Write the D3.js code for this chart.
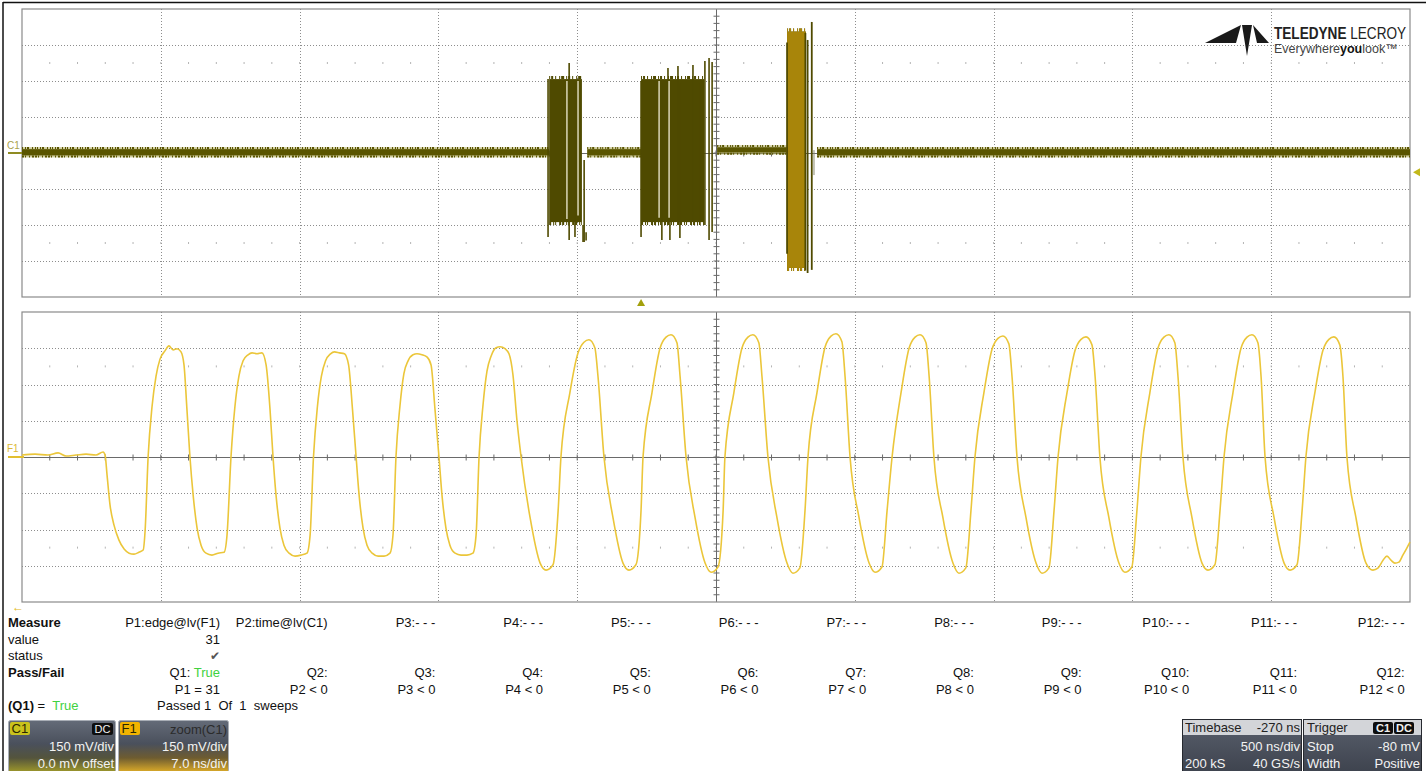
<!DOCTYPE html>
<html lang="en">
<head>
<meta charset="UTF-8">
<title>C1 burst capture with F1 zoom</title>
<script src="https://d3js.org/d3.v7.min.js"></script>
<style>
  body { margin: 0; background: #fff; }
  svg { display: block; font-family: "Liberation Sans", Arial, sans-serif; }
</style>
</head>
<body>
<svg id="scope" width="1426" height="771"></svg>
<script>
// ---------- C1 : 500 ns/div, 150 mV/div (time in ns from screen centre) ----------
const c1Baseline = [ // [t0, t1, low mV, high mV]
  [-2500, -601, -10, 16],
  [-464, -270, -10, 16],
  [4, 256, 2, 24],
  [364, 2500, -10, 16]
];
const c1Bursts = [ // [t0, t1, low mV, high mV]
  [-601, -483, -288, 308],
  [-270, -43, -288, 308],
  [256, 324, -479, 506]
];
const c1Spikes = [ // [t, low mV, high mV]
  [-605, -350, 308], [-529, -362, 375], [-508, -350, 290],
  [-479, -371, -300], [-475, -371, -29], [-468, -365, -330],
  [-270, -350, 300], [-195, -362, 290], [-173, -280, 354], [-166, -362, 290],
  [-137, -280, 363], [-130, -354, 290], [-83, -280, 367], [-58, -300, 290],
  [-40, -300, 383], [-25, -362, 396], [-14, -329, 379]
];
const c1Gaps = [ // light gaps inside the bursts [t, low mV, high mV]
  [-537, -275, 300], [-497, -260, 300], [-205, -270, 300], [-169, -270, 300]
];
const c1EdgeLines = [ // dark edges drawn over the zoom highlight
  [256, -420, 460], [322, -490, 500], [330, -500, 471], [345, -487, 546]
];
const c1Stub = [353, -92, 12];
const zoomCentre = 288, zoomHalf = 35;
const triggerTime = -270, triggerLevel = -80;

// ---------- F1 = zoom(C1) : 7 ns/div, 150 mV/div ----------
const f1Points = [
  [-35.00, 8], [-34.34, 12], [-33.69, 8], [-33.18, 17], [-32.78, 4], [-32.28, 8], [-31.77, 12], [-31.27, 8], [-30.91, 21], [-30.81, 8],
  [-30.71, -75], [-30.56, -199], [-30.36, -282], [-30.11, -344], [-29.85, -381], [-29.60, -398], [-29.35, -402], [-29.10, -394], [-28.89, -385], [-28.79, -303],
  [-28.64, 0], [-28.44, 210], [-28.24, 335], [-28.04, 405], [-27.79, 439], [-27.59, 460], [-27.38, 443], [-27.18, 448], [-26.98, 435], [-26.83, 381], [-26.68, 195],
  [-26.53, 0], [-26.37, -157], [-26.17, -294], [-25.97, -365], [-25.72, -398], [-25.42, -406], [-25.11, -398], [-24.81, -394], [-24.66, -323],
  [-24.46, 0], [-24.26, 210], [-24.06, 335], [-23.85, 398], [-23.60, 423], [-23.40, 431], [-23.15, 427], [-22.90, 431], [-22.69, 381], [-22.49, 195],
  [-22.34, 0], [-22.19, -157], [-21.99, -294], [-21.79, -365], [-21.53, -398], [-21.23, -410], [-20.93, -406], [-20.63, -398], [-20.47, -323],
  [-20.30, 0], [-20.10, 210], [-19.90, 335], [-19.69, 398], [-19.44, 427], [-19.24, 435], [-18.99, 431], [-18.74, 427], [-18.53, 381], [-18.33, 195],
  [-18.15, 0], [-18.00, -157], [-17.80, -294], [-17.60, -365], [-17.34, -398], [-17.04, -410], [-16.74, -410], [-16.44, -398], [-16.29, -323],
  [-16.14, 0], [-15.94, 210], [-15.74, 345], [-15.53, 398], [-15.28, 423], [-15.08, 427], [-14.83, 423], [-14.58, 414], [-14.37, 381], [-14.17, 195],
  [-13.97, 0], [-13.82, -157], [-13.62, -294], [-13.42, -365], [-13.16, -398], [-12.86, -406], [-12.56, -406], [-12.26, -398], [-12.10, -323],
  [-11.95, 0], [-11.75, 215], [-11.55, 355], [-11.34, 418], [-11.09, 452], [-10.89, 456], [-10.64, 448], [-10.44, 427], [-10.24, 340], [-10.04, 153],
  [-9.83, 0], [-9.38, -249], [-8.87, -439], [-8.57, -468], [-8.22, -446], [-7.96, -220],
  [-7.82, 0], [-7.37, 265], [-6.96, 430], [-6.66, 475], [-6.41, 485], [-6.11, 452], [-5.95, 332],
  [-5.65, 0], [-5.20, -249], [-4.69, -439], [-4.39, -468], [-4.04, -446], [-3.78, -220],
  [-3.68, 0], [-3.23, 265], [-2.82, 451], [-2.52, 496], [-2.27, 506], [-1.97, 473], [-1.81, 332],
  [-1.51, 0], [-1.06, -249], [-0.55, -439], [-0.25, -477], [0.10, -455], [0.36, -220],
  [0.45, 0], [0.90, 265], [1.31, 451], [1.61, 496], [1.86, 506], [2.16, 473], [2.32, 332],
  [2.62, 0], [3.07, -249], [3.58, -439], [3.88, -481], [4.23, -459], [4.49, -220],
  [4.64, 0], [5.09, 265], [5.50, 455], [5.80, 500], [6.05, 510], [6.35, 477], [6.51, 332],
  [6.76, 0], [7.21, -249], [7.72, -439], [8.02, -477], [8.37, -455], [8.63, -220],
  [8.88, 0], [9.33, 265], [9.74, 451], [10.04, 496], [10.29, 506], [10.59, 473], [10.75, 332],
  [10.99, 0], [11.44, -249], [11.95, -439], [12.25, -481], [12.60, -459], [12.86, -220],
  [13.06, 0], [13.51, 265], [13.92, 446], [14.22, 491], [14.47, 501], [14.77, 468], [14.93, 332],
  [15.18, 0], [15.63, -249], [16.14, -439], [16.44, -481], [16.79, -459], [17.05, -220],
  [17.25, 0], [17.70, 265], [18.11, 442], [18.41, 487], [18.66, 497], [18.96, 464], [19.12, 332],
  [19.36, 0], [19.81, -249], [20.32, -439], [20.62, -477], [20.97, -455], [21.23, -220],
  [21.43, 0], [21.88, 265], [22.29, 451], [22.59, 496], [22.84, 506], [23.14, 473], [23.30, 332],
  [23.55, 0], [24.00, -249], [24.51, -439], [24.81, -468], [25.16, -446], [25.42, -220],
  [25.62, 0], [26.07, 265], [26.48, 451], [26.78, 496], [27.03, 506], [27.33, 473], [27.49, 332],
  [27.69, 0], [28.14, -249], [28.65, -439], [28.95, -468], [29.30, -446], [29.56, -220],
  [29.75, 0], [30.20, 265], [30.61, 442], [30.91, 487], [31.16, 497], [31.46, 464], [31.62, 332],
  [31.82, 0], [32.27, -249], [32.78, -439], [33.13, -468], [33.38, -460], [33.64, -427], [33.84, -410],
  [34.04, -427], [34.24, -439], [34.44, -435], [34.64, -406], [34.84, -377], [35.00, -352]
];

// ---------- measurement table ----------
const paramHeaders = ["P1:edge@lv(F1)", "P2:time@lv(C1)", "P3:- - -", "P4:- - -", "P5:- - -", "P6:- - -",
  "P7:- - -", "P8:- - -", "P9:- - -", "P10:- - -", "P11:- - -", "P12:- - -"];
const paramValues = ["31"];
const paramStatus = ["\u2714"];
const qHeaders = d3.range(1, 13).map(i => `Q${i}:`);
const qResults = ["True"];
const qConditions = ["P1 = 31", "P2 < 0", "P3 < 0", "P4 < 0", "P5 < 0", "P6 < 0",
  "P7 < 0", "P8 < 0", "P9 < 0", "P10 < 0", "P11 < 0", "P12 < 0"];
const sweepSummary = ["(Q1)", "True", "Passed 1  Of  1  sweeps"];

// ---------- channel / timebase descriptors ----------
const c1Badge = ["C1", "DC", "150 mV/div", "0.0 mV offset"];
const f1Badge = ["F1", "zoom(C1)", "150 mV/div", "7.0 ns/div"];
const timebaseBox = ["Timebase", "-270 ns", "500 ns/div", "200 kS", "40 GS/s"];
const triggerBox = ["Trigger", "C1", "DC", "Stop", "-80 mV", "Width", "Positive"];

// ---------- layout ----------
const svg = d3.select("#scope");
const left = 22, right = 1410;
const top1 = 9, bot1 = 297, top2 = 312, bot2 = 602;

const xTop = d3.scaleLinear().domain([-2500, 2500]).range([left, right]);
const yTop = d3.scaleLinear().domain([-600, 600]).range([bot1, top1]);
const xBot = d3.scaleLinear().domain([-35, 35]).range([left, right]);
const yBot = d3.scaleLinear().domain([-600, 600]).range([bot2, top2]);

const darkTrace = "#4f4a00", baseTrace = "#5a5500", goldTrace = "#a8850a", f1Colour = "#ebc63a";

// gradients for the badges
const defs = svg.append("defs");
function grad(id, stops) {
  const g = defs.append("linearGradient").attr("id", id).attr("x1", 0).attr("y1", 0).attr("x2", 0).attr("y2", 1);
  stops.forEach(s => g.append("stop").attr("offset", s[0]).attr("stop-color", s[1]));
}
grad("gC1", [[0, "#646b78"], [0.45, "#4a505c"], [0.72, "#54543c"], [1, "#a09a2a"]]);
grad("gF1", [[0, "#646b78"], [0.45, "#4a505c"], [0.72, "#6e5c30"], [1, "#e0ae28"]]);
grad("gBox", [[0, "#59606d"], [1, "#3e434e"]]);

defs.append("clipPath").attr("id", "zoomClip").append("rect")
  .attr("x", xTop(zoomCentre - zoomHalf)).attr("y", top1)
  .attr("width", xTop(zoomCentre + zoomHalf) - xTop(zoomCentre - zoomHalf)).attr("height", bot1 - top1);

// outer border
svg.append("line").attr("x1", 3).attr("x2", 3).attr("y1", 2).attr("y2", 771).attr("stroke", "#111").attr("stroke-width", 1.5);
svg.append("line").attr("x1", 3).attr("x2", 1426).attr("y1", 2.5).attr("y2", 2.5).attr("stroke", "#111").attr("stroke-width", 1.5);

function drawGrid(g, x, y, tStep, vStep) {
  const [t0, t1] = x.domain(), [v0, v1] = y.domain();
  const tDivs = d3.range(0, 11).map(i => t0 + i * tStep);
  const vDivs = d3.range(0, 9).map(i => v0 + i * vStep);
  const tMinor = d3.range(0, 51).map(i => t0 + i * tStep / 5);
  const vMinor = d3.range(0, 41).map(i => v0 + i * vStep / 5);

  g.selectAll(".gv").data(tDivs.filter((d, i) => i > 0 && i < 10 && i !== 5)).join("line")
    .attr("x1", d => Math.round(x(d)) + 0.5).attr("x2", d => Math.round(x(d)) + 0.5)
    .attr("y1", y(v1)).attr("y2", y(v0))
    .attr("stroke", "#8d8d8d").attr("stroke-dasharray", "1,2");
  g.selectAll(".gh").data(vDivs.filter((d, i) => i > 0 && i < 8 && i !== 4)).join("line")
    .attr("y1", d => Math.round(y(d)) + 0.5).attr("y2", d => Math.round(y(d)) + 0.5)
    .attr("x1", x(t0)).attr("x2", x(t1))
    .attr("stroke", "#8d8d8d").attr("stroke-dasharray", "1,2");

  // faint fifth-division marks at +/- 2.5 divisions
  [2.5 * vStep, -2.5 * vStep].forEach(v => {
    g.append("g").selectAll("line").data(tMinor.slice(1, -1)).join("line")
      .attr("x1", d => x(d)).attr("x2", d => x(d))
      .attr("y1", y(v) - 1).attr("y2", y(v) + 1)
      .attr("stroke", "#b4b4b4");
  });

  // centre axes with ticks
  const cx = Math.round(x(0)) + 0.5, cy = Math.round(y(0)) + 0.5;
  g.append("line").attr("x1", cx).attr("x2", cx).attr("y1", y(v1)).attr("y2", y(v0)).attr("stroke", "#6a6a6a");
  g.append("line").attr("y1", cy).attr("y2", cy).attr("x1", x(t0)).attr("x2", x(t1)).attr("stroke", "#6a6a6a");
  g.append("g").selectAll("line").data(vMinor.slice(1, -1)).join("line")
    .attr("x1", cx - 3).attr("x2", cx + 3).attr("y1", d => y(d)).attr("y2", d => y(d)).attr("stroke", "#6a6a6a");
  g.append("g").selectAll("line").data(tMinor.slice(1, -1)).join("line")
    .attr("y1", cy - 3).attr("y2", cy + 3).attr("x1", d => x(d)).attr("x2", d => x(d)).attr("stroke", "#6a6a6a");

  g.append("rect").attr("x", x(t0)).attr("y", y(v1)).attr("width", x(t1) - x(t0)).attr("height", y(v0) - y(v1))
    .attr("fill", "none").attr("stroke", "#8a8a8a").attr("stroke-width", 1.2);
}

const gTop = svg.append("g");
const gBot = svg.append("g");
drawGrid(gTop, xTop, yTop, 500, 150);
drawGrid(gBot, xBot, yBot, 7, 150);

// ---------- C1 trace ----------
function fringe(g, data, colour, yOf, shift, dash, width) {
  g.append("g").selectAll("line").data(data).join("line")
    .attr("x1", d => xTop(d[0])).attr("x2", d => xTop(d[1]))
    .attr("y1", d => yTop(yOf(d)) + shift).attr("y2", d => yTop(yOf(d)) + shift)
    .attr("stroke", colour).attr("stroke-width", width).attr("stroke-dasharray", dash);
}
function drawC1(g, colour, lineColour, haloColour) {
  g.append("g").selectAll("rect").data(c1Baseline).join("rect")
    .attr("x", d => xTop(d[0])).attr("width", d => xTop(d[1]) - xTop(d[0]))
    .attr("y", d => yTop(d[3]) - 2).attr("height", d => yTop(d[2]) - yTop(d[3]) + 4)
    .attr("fill", haloColour).attr("opacity", 0.55);
  g.append("g").selectAll("rect").data(c1Baseline).join("rect")
    .attr("x", d => xTop(d[0])).attr("width", d => xTop(d[1]) - xTop(d[0]))
    .attr("y", d => yTop(d[3])).attr("height", d => yTop(d[2]) - yTop(d[3]))
    .attr("fill", lineColour);
  // ragged edges of the noise band
  fringe(g, c1Baseline, lineColour, d => d[3], -1.2, "1 2 1 1 2 3 1 2 1 1", 2);
  fringe(g, c1Baseline, lineColour, d => d[2], 1.2, "2 1 1 3 1 2 2 1", 2);

  g.append("g").selectAll("rect").data(c1Bursts).join("rect")
    .attr("x", d => xTop(d[0])).attr("width", d => xTop(d[1]) - xTop(d[0]))
    .attr("y", d => yTop(d[3])).attr("height", d => yTop(d[2]) - yTop(d[3]))
    .attr("fill", colour);
  fringe(g, c1Bursts, colour, d => d[3], -1.5, "1 1 2 2 1 3 1 1 3 2", 3);
  fringe(g, c1Bursts, colour, d => d[2], 1.5, "2 2 1 1 1 3 2 1", 3);
  g.append("g").selectAll("line").data(c1Spikes).join("line")
    .attr("x1", d => xTop(d[0])).attr("x2", d => xTop(d[0]))
    .attr("y1", d => yTop(d[1])).attr("y2", d => yTop(d[2]))
    .attr("stroke", colour).attr("stroke-width", 1.6);
}
drawC1(gTop.append("g"), darkTrace, baseTrace, "#aaa552");
gTop.append("g").selectAll("line").data(c1Gaps).join("line")
  .attr("x1", d => xTop(d[0])).attr("x2", d => xTop(d[0]))
  .attr("y1", d => yTop(d[1])).attr("y2", d => yTop(d[2]))
  .attr("stroke", "#e4e0c4").attr("stroke-width", 1.4);
drawC1(gTop.append("g").attr("clip-path", "url(#zoomClip)"), goldTrace, goldTrace, "#d2b24a");
gTop.append("g").selectAll("line").data(c1EdgeLines).join("line")
  .attr("x1", d => xTop(d[0])).attr("x2", d => xTop(d[0]))
  .attr("y1", d => yTop(d[1])).attr("y2", d => yTop(d[2]))
  .attr("stroke", darkTrace).attr("stroke-width", 1.8);
gTop.append("line")
  .attr("x1", xTop(c1Stub[0])).attr("x2", xTop(c1Stub[0]))
  .attr("y1", yTop(c1Stub[1])).attr("y2", yTop(c1Stub[2]))
  .attr("stroke", "#8a8a70").attr("stroke-width", 1);

// C1 label and offset marker
svg.append("text").attr("x", 7).attr("y", yTop(0) - 4).attr("font-size", 10).attr("fill", "#a9a24c").text("C1");
svg.append("line").attr("x1", 8).attr("x2", left).attr("y1", yTop(0)).attr("y2", yTop(0))
  .attr("stroke", "#8f8b22").attr("stroke-width", 2);

// trigger markers
const tx = xTop(triggerTime);
svg.append("path").attr("d", `M${tx - 4},${bot1 + 9} L${tx + 4},${bot1 + 9} L${tx},${bot1 + 2} Z`).attr("fill", "#a3a00c");
const ty = yTop(triggerLevel);
svg.append("path").attr("d", `M${right + 3},${ty} L${right + 10},${ty - 4} L${right + 10},${ty + 4} Z`).attr("fill", "#c2b81c");

// ---------- F1 trace ----------
const f1Line = d3.line().x(d => xBot(d[0])).y(d => yBot(d[1])).curve(d3.curveMonotoneX);
gBot.append("path").datum(f1Points).attr("d", f1Line)
  .attr("fill", "none").attr("stroke", f1Colour).attr("stroke-width", 1.6).attr("stroke-linejoin", "round");

svg.append("text").attr("x", 7).attr("y", yBot(0) - 5).attr("font-size", 10).attr("fill", "#dcb934").text("F1");
svg.append("line").attr("x1", 8).attr("x2", left + 2).attr("y1", yBot(0)).attr("y2", yBot(0))
  .attr("stroke", "#e2bf30").attr("stroke-width", 2);
svg.append("text").attr("x", 12).attr("y", bot2 + 9).attr("font-size", 12).attr("fill", "#e2b820").text("\u2190");

// ---------- logo ----------
const logo = svg.append("g");
logo.append("path").attr("d", "M1205,43 L1241,25 L1236,43 Z M1242,25 L1252,25 L1247,56 Z M1253,25 L1269,43 L1257,43 Z").attr("fill", "#1a1a1a");
const l1 = logo.append("text").attr("transform", "translate(1274,38.5) scale(0.8,1)")
  .attr("font-size", 17).attr("fill", "#222");
l1.append("tspan").attr("font-weight", "bold").text("TELEDYNE");
l1.append("tspan").text(" LECROY");
const l2 = logo.append("text").attr("x", 1274).attr("y", 53).attr("font-size", 12.5).attr("fill", "#444");
l2.append("tspan").text("Everywhere");
l2.append("tspan").attr("font-weight", "bold").attr("fill", "#111").text("you");
l2.append("tspan").text("look\u2122");

// ---------- measurement table ----------
const colRight = d3.range(12).map(i => 220 + i * 107.7);
const rowY = [627, 644, 660, 677, 694, 710];
const tbl = svg.append("g").attr("font-size", 13).attr("fill", "#111");
tbl.append("text").attr("x", 8).attr("y", rowY[0]).attr("font-weight", "bold").text("Measure");
tbl.append("text").attr("x", 8).attr("y", rowY[1]).text("value");
tbl.append("text").attr("x", 8).attr("y", rowY[2]).text("status");
tbl.append("text").attr("x", 8).attr("y", rowY[3]).attr("font-weight", "bold").text("Pass/Fail");
tbl.selectAll(".ph").data(paramHeaders).join("text")
  .attr("x", (d, i) => colRight[i]).attr("y", rowY[0]).attr("text-anchor", "end").text(d => d);
tbl.selectAll(".pv").data(paramValues).join("text")
  .attr("x", (d, i) => colRight[i]).attr("y", rowY[1]).attr("text-anchor", "end").text(d => d);
tbl.selectAll(".ps").data(paramStatus).join("text")
  .attr("x", (d, i) => colRight[i]).attr("y", rowY[2]).attr("text-anchor", "end")
  .attr("font-family", "DejaVu Sans").attr("font-size", 12).attr("fill", "#555").text(d => d);
tbl.selectAll(".qh").data(qHeaders).join("text")
  .attr("x", (d, i) => colRight[i]).attr("y", rowY[3]).attr("text-anchor", "end")
  .each(function (d, i) {
    const t = d3.select(this);
    t.append("tspan").text(d);
    if (qResults[i]) t.append("tspan").attr("fill", "#3fd23f").text(" " + qResults[i]);
  });
tbl.selectAll(".qc").data(qConditions).join("text")
  .attr("x", (d, i) => colRight[i]).attr("y", rowY[4]).attr("text-anchor", "end").text(d => d);
const sum = tbl.append("text").attr("x", 8).attr("y", rowY[5]).style("white-space", "pre");
sum.append("tspan").attr("font-weight", "bold").text(sweepSummary[0]);
sum.append("tspan").text(" =  ");
sum.append("tspan").attr("fill", "#3fd23f").text(sweepSummary[1]);
tbl.append("text").attr("x", 157).attr("y", rowY[5]).style("white-space", "pre").text(sweepSummary[2]);

// ---------- channel badges ----------
function badge(x0, w, fillId, items, tagColour, isZoom) {
  const g = svg.append("g").attr("font-size", 13);
  g.append("rect").attr("x", x0 + 0.5).attr("y", 720.5).attr("width", w).attr("height", 52).attr("rx", 2)
    .attr("fill", `url(#${fillId})`).attr("stroke", "#a9aeb6");
  g.append("rect").attr("x", x0 + 2).attr("y", 722).attr("width", items[0].length * 9 + 2).attr("height", 13).attr("rx", 2)
    .attr("fill", tagColour);
  g.append("text").attr("x", x0 + 3.5).attr("y", 733).attr("fill", "#2a2600").text(items[0]);
  if (isZoom) {
    g.append("text").attr("x", x0 + w - 1).attr("y", 734).attr("text-anchor", "end").attr("fill", "#2b2b2b").text(items[1]);
  } else {
    g.append("rect").attr("x", x0 + w - 23).attr("y", 723).attr("width", 21).attr("height", 12).attr("rx", 2).attr("fill", "#0e0e0e");
    g.append("text").attr("x", x0 + w - 12.5).attr("y", 733).attr("text-anchor", "middle").attr("font-size", 11)
      .attr("fill", "#f0f0f0").text(items[1]);
  }
  g.append("text").attr("x", x0 + w - 1).attr("y", 751).attr("text-anchor", "end").attr("fill", "#f3f3f3").text(items[2]);
  g.append("text").attr("x", x0 + w - 1).attr("y", 768).attr("text-anchor", "end").attr("fill", "#f3f3f3").text(items[3]);
}
badge(8, 107, "gC1", c1Badge, "#c9c21c", false);
badge(118, 110, "gF1", f1Badge, "#f2b400", true);

// ---------- timebase / trigger ----------
function infoBox(x0, w) {
  const g = svg.append("g").attr("font-size", 13);
  g.append("rect").attr("x", x0 + 0.5).attr("y", 719.5).attr("width", w).attr("height", 53)
    .attr("fill", "url(#gBox)").attr("stroke", "#26292f");
  g.append("rect").attr("x", x0 + 1).attr("y", 720).attr("width", w - 1).attr("height", 15).attr("fill", "#d3d5d9");
  return g;
}
const tb = infoBox(1182, 119);
tb.append("text").attr("x", 1185).attr("y", 732).attr("fill", "#222").text(timebaseBox[0]);
tb.append("text").attr("x", 1300).attr("y", 732).attr("text-anchor", "end").attr("fill", "#222").text(timebaseBox[1]);
tb.append("text").attr("x", 1300).attr("y", 751).attr("text-anchor", "end").attr("fill", "#f3f3f3").text(timebaseBox[2]);
tb.append("text").attr("x", 1185).attr("y", 768).attr("fill", "#f3f3f3").text(timebaseBox[3]);
tb.append("text").attr("x", 1300).attr("y", 768).attr("text-anchor", "end").attr("fill", "#f3f3f3").text(timebaseBox[4]);

const tr = infoBox(1303, 118);
tr.append("text").attr("x", 1307).attr("y", 732).attr("fill", "#222").text(triggerBox[0]);
[[1373, triggerBox[1]], [1394, triggerBox[2]]].forEach(([x, s]) => {
  tr.append("rect").attr("x", x).attr("y", 722).attr("width", 20).attr("height", 12).attr("rx", 2).attr("fill", "#0e0e0e");
  tr.append("text").attr("x", x + 10).attr("y", 732).attr("text-anchor", "middle").attr("font-size", 11)
    .attr("font-weight", "bold").attr("fill", "#f0f0f0").text(s);
});
tr.append("text").attr("x", 1307).attr("y", 751).attr("fill", "#f3f3f3").text(triggerBox[3]);
tr.append("text").attr("x", 1420).attr("y", 751).attr("text-anchor", "end").attr("fill", "#f3f3f3").text(triggerBox[4]);
tr.append("text").attr("x", 1307).attr("y", 768).attr("fill", "#f3f3f3").text(triggerBox[5]);
tr.append("text").attr("x", 1420).attr("y", 768).attr("text-anchor", "end").attr("fill", "#f3f3f3").text(triggerBox[6]);
</script>
</body>
</html>
